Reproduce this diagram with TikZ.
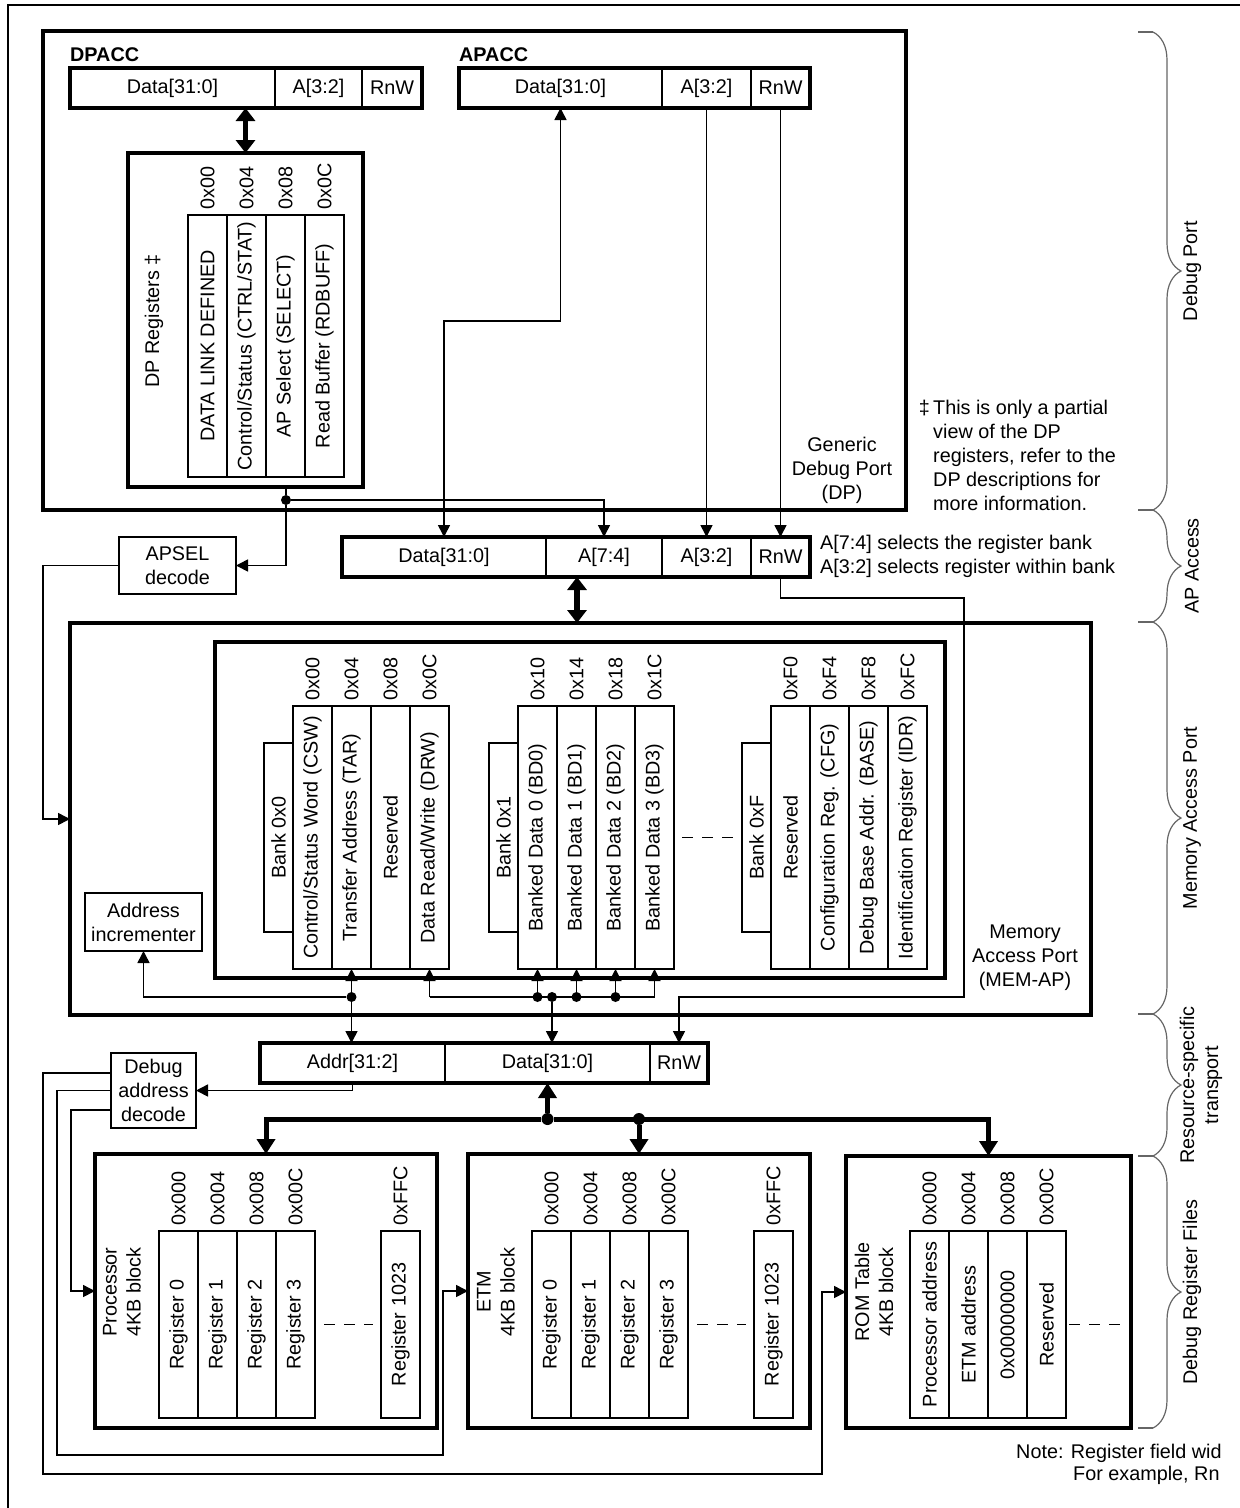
\documentclass[tikz,border=0pt]{standalone}
\usepackage{fontspec}
\setmainfont{Liberation Sans}
\usetikzlibrary{arrows.meta,positioning,decorations.pathreplacing}
\tikzset{
    wire/.style={line width=1.6pt},
    arr/.style={wire, -{Triangle[length=12pt,width=12pt]}},
    arrs/.style={wire, {Triangle[length=12pt,width=12pt]}-{Triangle[length=12pt,width=12pt]}},
    heavy/.style={line width=3.6pt},
    bus/.style={line width=5pt, -{Triangle[length=15pt,width=18pt]}},
    dbl/.style={line width=5.5pt, {Triangle[length=13pt,width=19pt]}-{Triangle[length=13pt,width=19pt]}},
    field/.style={draw, wire, anchor=north west, minimum height=40pt, inner sep=0pt, outer sep=0pt},
    blk/.style={draw, heavy, anchor=north west, inner sep=0pt, outer sep=0pt},
    smallbox/.style={draw, wire, anchor=north west, align=center, inner sep=0pt, outer sep=0pt},
    col/.style={draw, wire, rotate=90, minimum width=#1, minimum height=39pt, inner sep=0pt, outer sep=0pt},
    bank/.style={draw, wire, rotate=90, anchor=south, minimum width=189pt, minimum height=29pt, inner sep=0pt, outer sep=0pt},
    adr/.style={rotate=90, anchor=west, inner sep=5pt},
    jdot/.style={circle, fill, inner sep=0pt, minimum size=10pt},
    txt/.style={inner sep=0pt, align=center},
    gapline/.style={wire, dash pattern=on 11pt off 9pt},
    sidebrace/.style={draw=black!60, line width=1.2pt, decorate, decoration={brace, amplitude=28pt}},
    bracestub/.style={draw=black!60, line width=1.2pt}
}
\begin{document}
\begin{tikzpicture}[x=1pt, y=-1pt, font=\fontsize{19.8}{24}\selectfont]
    \useasboundingbox (0,0) rectangle (1240,1508);
    \clip (0,0) rectangle (1240,1508);
    \draw [wire] (8,1520) -- (8,5) -- (1250,5);

    \node [blk, minimum width=863pt, minimum height=479pt] (dp) at (43,31) {};
    \node [txt] (dpname) at (842,470) {Generic\\Debug Port\\(DP)};
    \node [anchor=west, inner sep=0pt] (dpacc) at (70,55) {\textbf{DPACC}};
    \node [field, minimum width=205pt] (dpd) at (70,68) {Data[31:0]};
    \node [field, minimum width=87pt, right=0pt of dpd] (dpa) {A[3:2]};
    \node [field, minimum width=60pt, right=0pt of dpa] (dpr) {RnW};
    \draw [heavy] (dpd.north west) rectangle (dpr.south east);
    \node [anchor=west, inner sep=0pt] (apacc) at (459,55) {\textbf{APACC}};
    \node [field, minimum width=203pt] (apd) at (459,68) {Data[31:0]};
    \node [field, minimum width=89pt, right=0pt of apd] (apa) {A[3:2]};
    \node [field, minimum width=59pt, right=0pt of apa] (apr) {RnW};
    \draw [heavy] (apd.north west) rectangle (apr.south east);

    \node [blk, minimum width=235pt, minimum height=334pt] (dpregs) at (128,153) {};
    \node [rotate=90, inner sep=0pt] (dptitle) at (154,321) {DP Registers ‡};
    \node [col=262pt] (dr0) at (207.5,346) {DATA LINK DEFINED};
    \node [col=262pt] (dr1) at (246.5,346) {Control/Status (CTRL/STAT)};
    \node [col=262pt] (dr2) at (285.5,346) {AP Select (SELECT)};
    \node [col=262pt] (dr3) at (324.5,346) {Read Buffer (RDBUFF)};
    \node [adr] (dr0a) at (dr0.east) {0x00};
    \node [adr] (dr1a) at (dr1.east) {0x04};
    \node [adr] (dr2a) at (dr2.east) {0x08};
    \node [adr] (dr3a) at (dr3.east) {0x0C};
    \draw [dbl] (dpd.south -| dpregs.north) to (dpregs.north);

    \node [anchor=west, align=left, inner sep=0pt] (fn) at (933,455) {This is only a partial\\view of the DP\\registers, refer to the\\DP descriptions for\\more information.};
    \node [anchor=north east, inner sep=0pt] (fnmark) at ([xshift=-3pt]fn.north west) {‡};

    \node [field, minimum width=204pt] (apdata) at (342,537) {Data[31:0]};
    \node [field, minimum width=116pt, right=0pt of apdata] (apa74) {A[7:4]};
    \node [field, minimum width=89pt, right=0pt of apa74] (apa32) {A[3:2]};
    \node [field, minimum width=59pt, right=0pt of apa32] (aprnw) {RnW};
    \draw [heavy] (apdata.north west) rectangle (aprnw.south east);
    \node [anchor=west, align=left, inner sep=0pt] (apnote) at (820,556) {A[7:4] selects the register bank\\A[3:2] selects register within bank};
    \node [smallbox, minimum width=117pt, minimum height=57pt] (apsel) at (119,537) {APSEL\\decode};

    \node [jdot] (j1) at (286,500) {};
    \draw [wire] (dpregs.south -| j1) to (j1);
    \draw [arr] (j1) -| (apa74.north);
    \draw [arr] (j1) |- (apsel.east);
    \draw [arrs] (apd.south) -- ++(0,213) -| (apdata.north);
    \draw [arr] (apa.south) to (apa32.north);
    \draw [arr] (apr.south) to (aprnw.north);

    \node [blk, minimum width=1021pt, minimum height=392pt] (memap) at (70,623) {};
    \node [txt] (memname) at (1025,958) {Memory\\Access Port\\(MEM-AP)};
    \node [blk, minimum width=730pt, minimum height=336pt] (apregs) at (215,642) {};
    \coordinate (apbus) at ([xshift=31pt]apdata.south east);
    \draw [dbl] (apbus) to (apbus |- memap.north);
    \draw [arr] (apsel.west) -- ++(-76,0) |- (memap.west);

    \node [col=263pt] (csw) at (312.5,837.5) {Control/Status Word (CSW)};
    \node [col=263pt] (tar) at (351.5,837.5) {Transfer Address (TAR)};
    \node [col=263pt] (rsv0) at (390.5,837.5) {Reserved};
    \node [col=263pt] (drw) at (429.5,837.5) {Data Read/Write (DRW)};
    \node [bank] (bank0) at (csw.north) {Bank 0x0};
    \node [adr] (cswa) at (csw.east) {0x00};
    \node [adr] (tara) at (tar.east) {0x04};
    \node [adr] (rsv0a) at (rsv0.east) {0x08};
    \node [adr] (drwa) at (drw.east) {0x0C};

    \node [col=263pt] (bd0) at (537.5,837.5) {Banked Data 0 (BD0)};
    \node [col=263pt] (bd1) at (576.5,837.5) {Banked Data 1 (BD1)};
    \node [col=263pt] (bd2) at (615.5,837.5) {Banked Data 2 (BD2)};
    \node [col=263pt] (bd3) at (654.5,837.5) {Banked Data 3 (BD3)};
    \node [bank] (bank1) at (bd0.north) {Bank 0x1};
    \node [adr] (bd0a) at (bd0.east) {0x10};
    \node [adr] (bd1a) at (bd1.east) {0x14};
    \node [adr] (bd2a) at (bd2.east) {0x18};
    \node [adr] (bd3a) at (bd3.east) {0x1C};

    \node [col=263pt] (rsvf) at (790.5,837.5) {Reserved};
    \node [col=263pt] (cfg) at (829.5,837.5) {Configuration Reg. (CFG)};
    \node [col=263pt] (base) at (868.5,837.5) {Debug Base Addr. (BASE)};
    \node [col=263pt] (idr) at (907.5,837.5) {Identification Register (IDR)};
    \node [bank] (bankf) at (rsvf.north) {Bank 0xF};
    \node [adr] (rsvfa) at (rsvf.east) {0xF0};
    \node [adr] (cfga) at (cfg.east) {0xF4};
    \node [adr] (basea) at (base.east) {0xF8};
    \node [adr] (idra) at (idr.east) {0xFC};
    \draw [gapline] ([xshift=8pt]bd3.south) to ([xshift=-8pt]bankf.north);

    \node [smallbox, minimum width=117pt, minimum height=58pt] (addrinc) at (85,893) {Address\\incrementer};

    \node [field, minimum width=185pt] (baddr) at (260,1043) {Addr[31:2]};
    \node [field, minimum width=205pt, right=0pt of baddr] (bdata) {Data[31:0]};
    \node [field, minimum width=58pt, right=0pt of bdata] (brnw) {RnW};
    \draw [heavy] (baddr.north west) rectangle (brnw.south east);

    \node [jdot] (jt) at (351.5,997) {};
    \node [jdot] (jb0) at (537.5,997) {};
    \node [jdot] (jd) at (552,997) {};
    \node [jdot] (jb1) at (576.5,997) {};
    \node [jdot] (jb2) at (615.5,997) {};
    \draw [wire] (drw.west |- jd) to (bd3.west |- jd);
    \draw [arr] (jt) to (tar.west);
    \draw [arr] (jt) -| (addrinc.south);
    \draw [arr] (jt) to (jt |- baddr.north);
    \draw [arr] (drw.west |- jd) to (drw.west);
    \draw [arr] (jb0) to (bd0.west);
    \draw [arr] (jb1) to (bd1.west);
    \draw [arr] (jb2) to (bd2.west);
    \draw [arr] (bd3.west |- jd) to (bd3.west);
    \draw [arr] (jd) to (jd |- bdata.north);
    \coordinate (rnwc) at (964,997);
    \draw [arr] (aprnw.south) -- ++(0,21) -| (rnwc) -| (brnw.north);

    \node [smallbox, minimum width=85pt, minimum height=75pt] (dad) at (111,1053) {Debug\\address\\decode};
    \draw [arr] (baddr.south) |- (dad.east);

    \node [blk, minimum width=342pt, minimum height=274pt] (proc) at (95,1154) {};
    \node [blk, minimum width=342pt, minimum height=274pt] (etm) at (468,1154) {};
    \node [blk, minimum width=285pt, minimum height=272pt] (rom) at (846,1156) {};
    \node [txt, rotate=90] (procname) at (122,1292) {Processor\\4KB block};
    \node [txt, rotate=90] (etmname) at (496,1292) {ETM\\4KB block};
    \node [txt, rotate=90] (romname) at (874,1292) {ROM Table\\4KB block};

    \node [col=187pt] (p0) at (178.5,1324.5) {Register 0};
    \node [col=187pt] (p1) at (217.5,1324.5) {Register 1};
    \node [col=187pt] (p2) at (256.5,1324.5) {Register 2};
    \node [col=187pt] (p3) at (295.5,1324.5) {Register 3};
    \node [col=187pt] (p1023) at (400.5,1324.5) {Register 1023};
    \node [adr] (p0a) at (p0.east) {0x000};
    \node [adr] (p1a) at (p1.east) {0x004};
    \node [adr] (p2a) at (p2.east) {0x008};
    \node [adr] (p3a) at (p3.east) {0x00C};
    \node [adr] (p1023a) at (p1023.east) {0xFFC};
    \draw [gapline] ([xshift=9pt]p3.south) to ([xshift=-8pt]p1023.north);

    \node [col=187pt] (e0) at (551.5,1324.5) {Register 0};
    \node [col=187pt] (e1) at (590.5,1324.5) {Register 1};
    \node [col=187pt] (e2) at (629.5,1324.5) {Register 2};
    \node [col=187pt] (e3) at (668.5,1324.5) {Register 3};
    \node [col=187pt] (e1023) at (773.5,1324.5) {Register 1023};
    \node [adr] (e0a) at (e0.east) {0x000};
    \node [adr] (e1a) at (e1.east) {0x004};
    \node [adr] (e2a) at (e2.east) {0x008};
    \node [adr] (e3a) at (e3.east) {0x00C};
    \node [adr] (e1023a) at (e1023.east) {0xFFC};
    \draw [gapline] ([xshift=9pt]e3.south) to ([xshift=-8pt]e1023.north);

    \node [col=187pt] (r0) at (929.5,1324.5) {Processor address};
    \node [col=187pt] (r1) at (968.5,1324.5) {ETM address};
    \node [col=187pt] (r2) at (1007.5,1324.5) {0x00000000};
    \node [col=187pt] (r3) at (1046.5,1324.5) {Reserved};
    \node [adr] (r0a) at (r0.east) {0x000};
    \node [adr] (r1a) at (r1.east) {0x004};
    \node [adr] (r2a) at (r2.east) {0x008};
    \node [adr] (r3a) at (r3.east) {0x00C};
    \coordinate (romend) at ([xshift=-11pt]rom.east);
    \draw [gapline] ([xshift=3pt]r3.south) to (r3.south -| romend);

    \node [jdot, minimum size=12pt] (jb) at (547.5,1119) {};
    \node [jdot, minimum size=12pt] (je) at (639,1119) {};
    \draw [bus] (jb) to (bdata.south);
    \draw [bus] (jb) -| (proc.north);
    \draw [bus] (jb) -| (rom.north);
    \draw [bus] (je) to (etm.north);

    \coordinate (w1) at (43,1474);
    \coordinate (w2) at (57,1455);
    \draw [arr] ([yshift=17.5pt]dad.west) -| (w1) -| ([xshift=-24pt]rom.west) -- (rom.west);
    \draw [arr] (dad.west) -| (w2) -| ([xshift=-25pt]etm.west) -- (etm.west);
    \draw [arr] ([yshift=-19.5pt]dad.west) -| ([xshift=-24pt]proc.west) -- (proc.west);

    \coordinate (b0) at (1153,32);
    \coordinate (b1) at (1153,510);
    \coordinate (b2) at (1153,622);
    \coordinate (b3) at (1153,1014);
    \coordinate (b4) at (1153,1156);
    \coordinate (b5) at (1153,1428);
    \draw [sidebrace] (b0) to (b1);
    \draw [sidebrace] (b1) to (b2);
    \draw [sidebrace] (b2) to (b3);
    \draw [sidebrace] (b3) to (b4);
    \draw [sidebrace] (b4) to (b5);
    \draw [bracestub] (b0) -- ++(-15,0);
    \draw [bracestub] (b1) -- ++(-15,0);
    \draw [bracestub] (b2) -- ++(-15,0);
    \draw [bracestub] (b3) -- ++(-15,0);
    \draw [bracestub] (b4) -- ++(-15,0);
    \draw [bracestub] (b5) -- ++(-15,0);
    \node [rotate=90, inner sep=0pt] (lbdp) at (1192,271) {Debug Port};
    \node [rotate=90, inner sep=0pt] (lbap) at (1192,566) {AP Access};
    \node [rotate=90, inner sep=0pt] (lbmem) at (1192,818) {Memory Access Port};
    \node [txt, rotate=90] (lbrst) at (1201,1085) {Resource-specific\\transport};
    \node [rotate=90, inner sep=0pt] (lbdrf) at (1192,1292) {Debug Register Files};

    \node [anchor=west, inner sep=0pt] (note1) at (1016,1453) {Note: Register field wid};
    \node [anchor=west, inner sep=0pt] (note2) at (1073,1475) {For example, Rn};
\end{tikzpicture}
\end{document}
